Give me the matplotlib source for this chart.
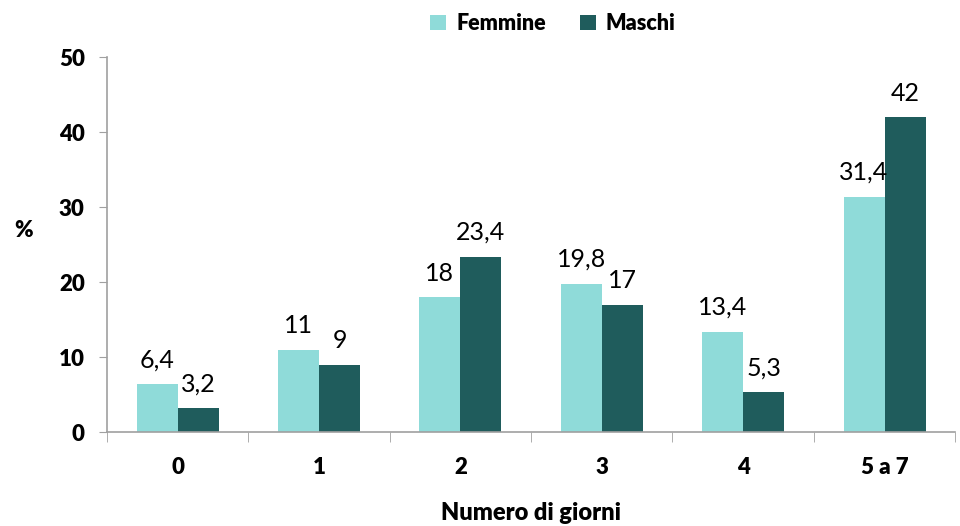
import matplotlib.pyplot as plt
import numpy as np

categories = ["0", "1", "2", "3", "4", "5 a 7"]
femmine = [6.4, 11, 18, 19.8, 13.4, 31.4]
maschi = [3.2, 9, 23.4, 17, 5.3, 42]
yticks = [0, 10, 20, 30, 40, 50]

plt.rcParams['font.family'] = ['Lato', 'DejaVu Sans']

fig = plt.figure(figsize=(9.6, 5.26), dpi=100)
ax = fig.add_axes([0.1115, 0.1787, 0.8835, 0.7129])

c_f = '#8FDBD9'
c_m = '#1F5C5C'
w = 0.29
x = np.arange(len(categories))
bf = ax.bar(x - w/2, femmine, w, color=c_f, label='Femmine')
bm = ax.bar(x + w/2, maschi, w, color=c_m, label='Maschi')

def fmt(v):
    return ('%g' % v).replace('.', ',')

for bars, vals in ((bf, femmine), (bm, maschi)):
    for rect, v in zip(bars, vals):
        ax.annotate(fmt(v), (rect.get_x() + rect.get_width()/2, v), xytext=(0, 9),
                    textcoords='offset points', ha='center', va='bottom', fontsize=18)

BW = 'heavy'
ax.set_xlim(-0.5, len(categories) - 0.5)
ax.set_ylim(0, 50)
ax.set_yticks(yticks)
ax.set_yticklabels([str(t) for t in yticks], fontsize=16, fontweight=BW)
ax.set_xticks(x)
ax.set_xticklabels(categories, fontsize=16, fontweight=BW)
ax.tick_params(axis='x', length=0, pad=18)
ax.set_xticks(np.arange(-0.5, len(categories), 1), minor=True)
ax.tick_params(axis='x', which='minor', length=7, color='#A0A0A0', direction='out')
ax.tick_params(axis='y', length=6, color='#A0A0A0', direction='out', pad=10)

for s in ['top', 'right']:
    ax.spines[s].set_visible(False)
for s in ['left', 'bottom']:
    ax.spines[s].set_color('#A0A0A0')
    ax.spines[s].set_linewidth(1.2)

ax.set_xlabel('Numero di giorni', fontsize=17, fontweight=BW, labelpad=17)
ax.set_ylabel('%', fontsize=16, fontweight=BW, rotation=0)
ax.yaxis.set_label_coords(-0.098, 0.51)

leg = fig.legend(loc='upper center', bbox_to_anchor=(0.576, 1.012), ncol=2, frameon=False,
                 prop={'size': 15.5, 'weight': BW}, handlelength=0.75, handleheight=0.75,
                 columnspacing=1.6, handletextpad=0.45)

fig.savefig('out.png', dpi=100)
